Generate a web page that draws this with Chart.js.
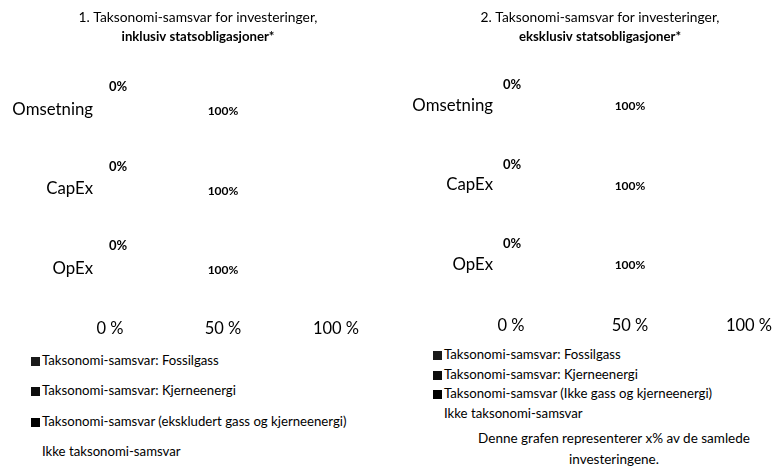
<!DOCTYPE html>
<html>
<head>
<meta charset="utf-8">
<script src="https://cdn.jsdelivr.net/npm/chart.js@4.4.1/dist/chart.umd.min.js"></script>
<style>
  html, body { margin: 0; padding: 0; background: #fff; width: 772px; height: 471px; overflow: hidden; }
  body { font-family: Lato, sans-serif; color: #000; }
  .panel { position: absolute; top: 0; width: 386px; height: 471px; overflow: hidden; }
  #panelLeft { left: 0; }
  #panelRight { left: 386px; }
  .panel canvas { position: absolute; top: 0; left: 0; }
  .legend-item { position: absolute; white-space: nowrap; font-size: 13.2px; line-height: 16px; }
  .swatch { display: inline-block; width: 9px; height: 9px; margin-right: 2px; vertical-align: -1px; }
  .note { position: absolute; left: 0; text-align: center; font-size: 13.5px; line-height: 21px; }
</style>
</head>
<body>
<div class="panel" id="panelLeft">
  <canvas id="chartInkl" width="396" height="345"></canvas>
  <div id="legendInkl"></div>
</div>
<div class="panel" id="panelRight">
  <canvas id="chartEkskl" width="428" height="345"></canvas>
  <div id="legendEkskl"></div>
  <div class="note" style="top:428px; width:456px;">Denne grafen representerer x% av de samlede<br>investeringene.</div>
</div>
<script>
// Kategorier og verdier (prosent)
const categories = ['Omsetning', 'CapEx', 'OpEx'];
const xTicks = [0, 50, 100];

// 1. inklusiv statsobligasjoner
const fossilgassInkl = [0, 0, 0];
const kjerneInkl = [0, 0, 0];
const samsvarInkl = [0, 0, 0];
const ikkeInkl = [100, 100, 100];

// 2. eksklusiv statsobligasjoner
const fossilgassEkskl = [0, 0, 0];
const kjerneEkskl = [0, 0, 0];
const samsvarEkskl = [0, 0, 0];
const ikkeEkskl = [100, 100, 100];

const namesInkl = [
    'Taksonomi-samsvar: Fossilgass',
    'Taksonomi-samsvar: Kjerneenergi',
    'Taksonomi-samsvar (ekskludert gass og kjerneenergi)',
    'Ikke taksonomi-samsvar'
];
const namesEkskl = [
    'Taksonomi-samsvar: Fossilgass',
    'Taksonomi-samsvar: Kjerneenergi',
    'Taksonomi-samsvar (Ikke gass og kjerneenergi)',
    'Ikke taksonomi-samsvar'
];
const seriesColors = ['#1a1a1a', '#0d0d0d', '#000000', '#ffffff'];

const FONT = 'Lato, sans-serif';

// Draws the data labels: "0%" above the bar start, "100%" in the middle of the bar
const barLabels = {
    id: 'barLabels',
    afterDatasetsDraw(chart, args, opts) {
        const ctx = chart.ctx;
        ctx.save();
        ctx.fillStyle = '#000';
        ctx.textAlign = 'center';
        ctx.textBaseline = 'middle';
        chart.data.datasets.forEach((ds, i) => {
            if (!ds.labelMode) return;
            const meta = chart.getDatasetMeta(i);
            meta.data.forEach((bar, j) => {
                const txt = ds.data[j] + '%';
                if (ds.labelMode === 'above') {
                    ctx.font = 'bold 13px ' + FONT;
                    ctx.fillText(txt, bar.base + opts.aboveDx, bar.y + opts.aboveDy);
                } else {
                    ctx.font = 'bold 12px ' + FONT;
                    ctx.fillText(txt, (bar.x + bar.base) / 2, bar.y + opts.centerDy);
                }
            });
        });
        ctx.restore();
    }
};

function buildDatasets(names, series) {
    return names.map((name, i) => ({
        label: name,
        data: series[i],
        backgroundColor: seriesColors[i],
        borderWidth: 0,
        barPercentage: 0.6,
        categoryPercentage: 1,
        labelMode: i === 2 ? 'above' : (i === 3 ? 'center' : null)
    }));
}

function makeChart(id, titleText, subtitleText, names, series, cfg) {
    const canvas = document.getElementById(id);
    return new Chart(canvas, {
        type: 'bar',
        data: {
            labels: categories,
            datasets: buildDatasets(names, series)
        },
        options: {
            indexAxis: 'y',
            responsive: false,
            animation: false,
            layout: { padding: 0 },
            plugins: {
                legend: { display: false },
                tooltip: { enabled: false },
                title: {
                    display: true,
                    text: titleText,
                    color: '#000',
                    font: { family: FONT, size: 13.8, weight: 'normal' },
                    padding: { top: 9, bottom: 3 }
                },
                subtitle: {
                    display: true,
                    text: subtitleText,
                    color: '#000',
                    font: { family: FONT, size: 13.2, weight: 'bold' },
                    padding: { top: 0, bottom: cfg.subPadBottom }
                },
                barLabels: { aboveDx: cfg.aboveDx, aboveDy: cfg.aboveDy, centerDy: cfg.centerDy }
            },
            scales: {
                x: {
                    stacked: true,
                    min: 0,
                    max: 100,
                    afterBuildTicks: s => { s.ticks = xTicks.map(v => ({ value: v })); },
                    ticks: {
                        color: '#000',
                        font: { family: FONT, size: 16.5 },
                        padding: cfg.xPad,
                        callback: v => v + ' %'
                    },
                    grid: { display: false, drawTicks: false },
                    border: { display: false },
                    afterFit: s => { s.height = cfg.xHeight; }
                },
                y: {
                    stacked: true,
                    ticks: {
                        color: '#000',
                        font: { family: FONT, size: 16.8 },
                        padding: cfg.yPad
                    },
                    grid: { display: false, drawTicks: false },
                    border: { display: false },
                    afterFit: s => { s.width = cfg.yWidth; }
                },
                // empty axis on the right, only reserves the white space right of the plot
                yRight: {
                    type: 'category',
                    position: 'right',
                    ticks: { display: false },
                    grid: { display: false, drawTicks: false },
                    border: { display: false },
                    afterFit: s => { s.width = cfg.rightSpace; }
                }
            }
        },
        plugins: [barLabels]
    });
}

function buildLegend(id, names, cfg) {
    const box = document.getElementById(id);
    names.forEach((name, i) => {
        const item = document.createElement('div');
        item.className = 'legend-item';
        item.style.left = cfg.left + 'px';
        item.style.top = (cfg.top + i * cfg.gap) + 'px';
        const sw = document.createElement('span');
        sw.className = 'swatch';
        sw.style.background = seriesColors[i];
        item.appendChild(sw);
        item.appendChild(document.createTextNode(name));
        box.appendChild(item);
    });
}

makeChart('chartInkl', '1. Taksonomi-samsvar for investeringer,', 'inklusiv statsobligasjoner*',
    namesInkl, [fossilgassInkl, kjerneInkl, samsvarInkl, ikkeInkl],
    { subPadBottom: 25, xHeight: 37, xPad: 11, yPad: 17, yWidth: 110, rightSpace: 60,
      aboveDx: 8, aboveDy: -22, centerDy: 2 });

makeChart('chartEkskl', '2. Taksonomi-samsvar for investeringer,', 'eksklusiv statsobligasjoner*',
    namesEkskl, [fossilgassEkskl, kjerneEkskl, samsvarEkskl, ikkeEkskl],
    { subPadBottom: 21, xHeight: 41, xPad: 12, yPad: 18, yWidth: 125, rightSpace: 65,
      aboveDx: 1, aboveDy: -20, centerDy: 1 });

buildLegend('legendInkl', namesInkl, { left: 31, top: 352, gap: 30.3 });
buildLegend('legendEkskl', namesEkskl, { left: 47, top: 346, gap: 19.7 });
</script>
</body>
</html>
